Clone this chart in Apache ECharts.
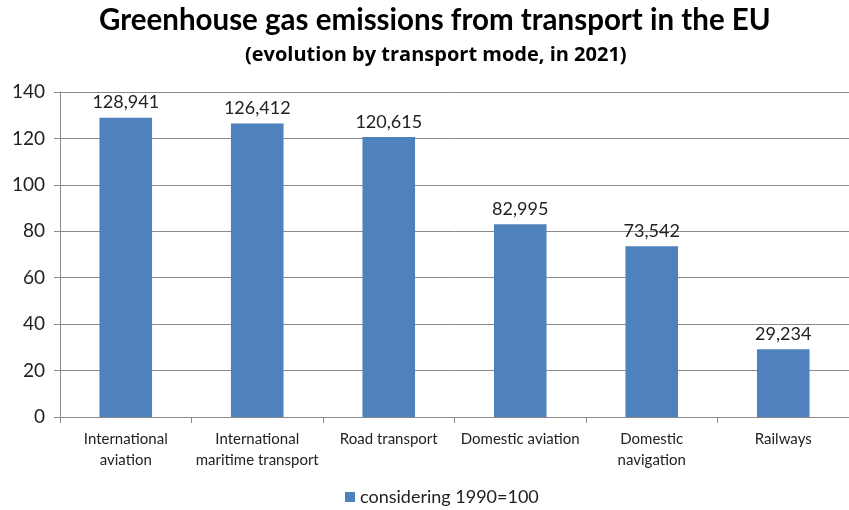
<!DOCTYPE html>
<html>
<head>
<meta charset="utf-8">
<script src="https://cdn.jsdelivr.net/npm/echarts@6/dist/echarts.min.js"></script>
<style>
  html, body { margin: 0; padding: 0; background: #fff; }
  #chart { width: 849px; height: 510px; }
</style>
</head>
<body>
<div id="chart"></div>
<script>
// Transport modes and their 2021 emission index (1990 = 100)
const categories = [
  'International\naviation',
  'International\nmaritime transport',
  'Road transport',
  'Domestic aviation',
  'Domestic\nnavigation',
  'Railways'
];
const values = [128.941, 126.412, 120.615, 82.995, 73.542, 29.234];
const seriesName = 'considering 1990=100';
const yTicks = [0, 20, 40, 60, 80, 100, 120, 140];

const FONT = 'Lato, "Open Sans", sans-serif';
const SUB_FONT = '"Open Sans", Lato, sans-serif';
const chart = echarts.init(document.getElementById('chart'));

chart.setOption({
  animation: false,
  backgroundColor: '#ffffff',
  title: [
    {
      text: 'Greenhouse gas emissions from transport in the EU',
      left: 94, top: 0,
      textStyle: { fontFamily: FONT, fontWeight: 'bold', fontSize: 29.5, color: '#000' }
    },
    {
      text: '(evolution by transport mode, in 2021)',
      left: 240, top: 40,
      textStyle: { fontFamily: SUB_FONT, fontWeight: 'bold', fontSize: 20, color: '#000' }
    }
  ],
  legend: {
    top: 483,
    left: 340,
    itemWidth: 10, itemHeight: 10,
    icon: 'rect',
    itemGap: 6,
    textStyle: { fontFamily: FONT, fontSize: 18, color: '#222' },
    data: [seriesName]
  },
  grid: { left: 60, top: 92, width: 794, height: 325, containLabel: false },
  xAxis: {
    type: 'category',
    data: categories,
    axisLine: { lineStyle: { color: '#8a8a8a', width: 1 } },
    axisTick: { show: true, length: 6, alignWithLabel: false, lineStyle: { color: '#8a8a8a' } },
    axisLabel: { fontFamily: FONT, fontSize: 15, color: '#222', lineHeight: 21, margin: 12, interval: 0 }
  },
  yAxis: {
    type: 'value',
    min: 0, max: 140, interval: 20,
    axisLine: { show: true, lineStyle: { color: '#8a8a8a', width: 1 } },
    axisTick: { show: true, length: 6, lineStyle: { color: '#8a8a8a' } },
    axisLabel: {
      fontFamily: FONT, fontSize: 19, color: '#222', margin: 15,
      formatter: v => yTicks.includes(v) ? String(v) : ''
    },
    splitLine: { show: true, lineStyle: { color: '#8a8a8a', width: 1 } }
  },
  series: [{
    name: seriesName,
    type: 'bar',
    data: values,
    barWidth: '40%',
    itemStyle: { color: '#4f81bd' },
    label: {
      show: true,
      position: 'top',
      distance: 6,
      fontFamily: FONT, fontSize: 18, color: '#222',
      formatter: p => p.value.toFixed(3).replace('.', ',')
    }
  }]
});
</script>
</body>
</html>
